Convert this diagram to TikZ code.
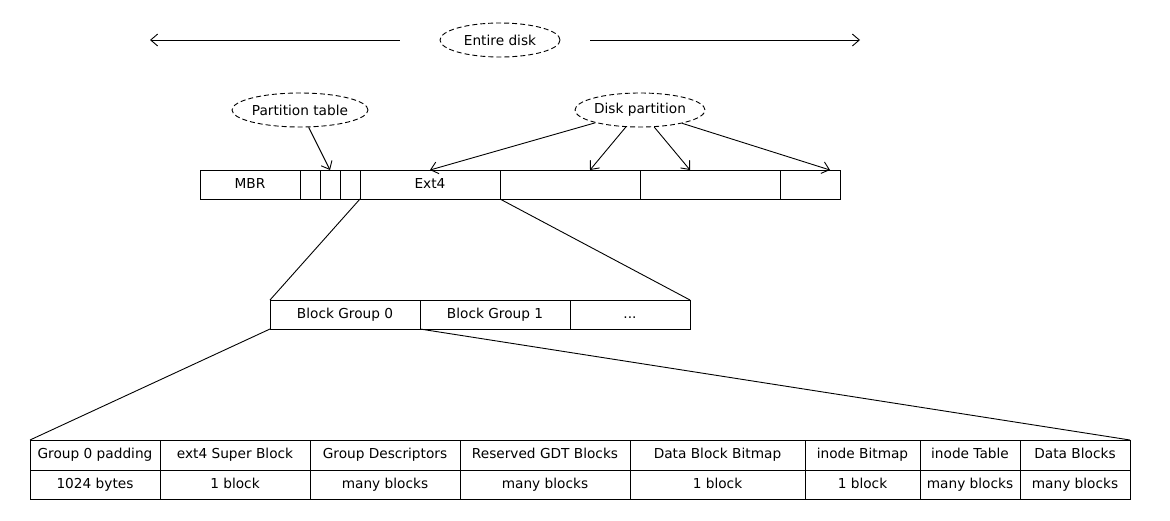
\documentclass[tikz,border=0pt]{standalone}
\usepackage{fontspec}
\setmainfont{DejaVu Sans}
\usetikzlibrary{shapes, arrows.meta, positioning}

\begin{document}
\begin{tikzpicture}[x=1pt, y=-1pt, line width=0.9pt,
  >={Straight Barb[length=7pt, width=12pt]},
  font=\fontsize{13.7}{16}\selectfont,
  cell/.style={draw, rectangle, outer sep=0pt, inner sep=0pt,
    minimum height=29pt, text height=10pt, text depth=3pt},
  tag/.style={draw, ellipse, dash pattern=on 5pt off 3pt, inner sep=0pt,
    minimum width=120pt, minimum height=34pt}]
  \fill[white] (0,0) rectangle (1170,520);
  \useasboundingbox (0,0) rectangle (1170,520);

  % labels
  \node[tag] (entire) at (500,40) {Entire disk};
  \node[tag] (ptable) at (300,110) {Partition table};
  \node[tag] (dpart) at (640,110) {Disk partition};

  % whole disk
  \node[cell, minimum width=100pt, anchor=north west] (mbr) at (200,170) {MBR};
  \node[cell, minimum width=20pt, right = 0pt of mbr] (pte1) {};
  \node[cell, minimum width=20pt, right = 0pt of pte1] (pte2) {};
  \node[cell, minimum width=20pt, right = 0pt of pte2] (pte3) {};
  \node[cell, minimum width=140pt, right = 0pt of pte3] (ext4) {Ext4};
  \node[cell, minimum width=140pt, right = 0pt of ext4] (part2) {};
  \node[cell, minimum width=140pt, right = 0pt of part2] (part3) {};
  \node[cell, minimum width=60pt, right = 0pt of part3] (part4) {};

  \coordinate (diskl) at (150,40);
  \coordinate (diskr) at (860,40);
  \draw[->] ([xshift=-40pt]entire.west) -- (diskl);
  \draw[->] ([xshift=30pt]entire.east) -- (diskr);

  \draw[->] (ptable) -- (pte2.north);
  \draw[->] (dpart) -- (ext4.north);
  \draw[->] (dpart) -- ([xshift=20pt]part2.north);
  \draw[->] (dpart) -- ([xshift=-20pt]part3.north);
  \draw[->] (dpart) -- ([xshift=20pt]part4.north);

  % block groups
  \node[cell, minimum width=150pt, anchor=north west] (bg0) at (270,300) {Block Group 0};
  \node[cell, minimum width=150pt, right = 0pt of bg0] (bg1) {Block Group 1};
  \node[cell, minimum width=120pt, right = 0pt of bg1] (bgdots) {...};

  \draw (ext4.south west) -- (bg0.north west);
  \draw (ext4.south east) -- (bgdots.north east);

  % block group 0 layout
  \node[cell, minimum height=30pt, minimum width=130pt, anchor=north west] (pad) at (30,440) {Group 0 padding};
  \node[cell, minimum height=30pt, minimum width=150pt, right = 0pt of pad] (sb) {ext4 Super Block};
  \node[cell, minimum height=30pt, minimum width=150pt, right = 0pt of sb] (gd) {Group Descriptors};
  \node[cell, minimum height=30pt, minimum width=170pt, right = 0pt of gd] (gdt) {Reserved GDT Blocks};
  \node[cell, minimum height=30pt, minimum width=175pt, right = 0pt of gdt] (dbmap) {Data Block Bitmap};
  \node[cell, minimum height=30pt, minimum width=115pt, right = 0pt of dbmap] (ibmap) {inode Bitmap};
  \node[cell, minimum height=30pt, minimum width=100pt, right = 0pt of ibmap] (itab) {inode Table};
  \node[cell, minimum height=30pt, minimum width=110pt, right = 0pt of itab] (data) {Data Blocks};

  \node[cell, minimum width=130pt, below = 0pt of pad] (padsz) {1024 bytes};
  \node[cell, minimum width=150pt, below = 0pt of sb] (sbsz) {1 block};
  \node[cell, minimum width=150pt, below = 0pt of gd] (gdsz) {many blocks};
  \node[cell, minimum width=170pt, below = 0pt of gdt] (gdtsz) {many blocks};
  \node[cell, minimum width=175pt, below = 0pt of dbmap] (dbmapsz) {1 block};
  \node[cell, minimum width=115pt, below = 0pt of ibmap] (ibmapsz) {1 block};
  \node[cell, minimum width=100pt, below = 0pt of itab] (itabsz) {many blocks};
  \node[cell, minimum width=110pt, below = 0pt of data] (datasz) {many blocks};

  \draw (bg0.south west) -- (pad.north west);
  \draw (bg0.south east) -- (data.north east);
\end{tikzpicture}
\end{document}
